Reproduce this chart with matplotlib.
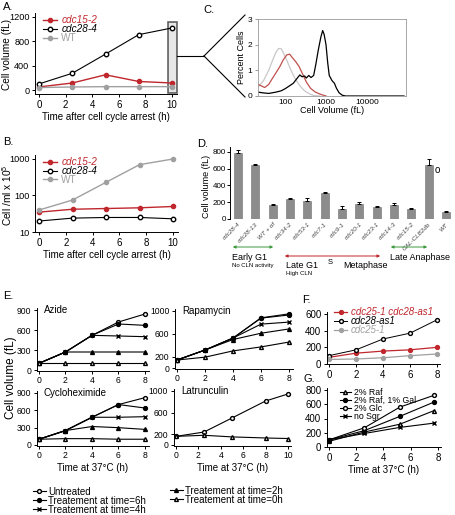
import numpy as np
import matplotlib
matplotlib.use("Agg")
import matplotlib.pyplot as plt
from matplotlib.patches import Rectangle, FancyArrowPatch
from matplotlib.lines import Line2D

plt.rcParams["font.family"] = ["Liberation Sans", "DejaVu Sans"]
plt.rcParams["mathtext.default"] = "regular"
plt.rcParams["axes.linewidth"] = 0.7
plt.rcParams["xtick.major.width"] = 0.7
plt.rcParams["ytick.major.width"] = 0.7
plt.rcParams["xtick.major.size"] = 2.5
plt.rcParams["ytick.major.size"] = 2.5
plt.rcParams["xtick.major.pad"] = 1.5
plt.rcParams["ytick.major.pad"] = 1.5

RED = "#c0272d"
GRAY = "#a0a0a0"
GREEN = "#3a9a3a"

# ==============================
# DATA
# ==============================

# A / B : arrest time course
t_arrest = [0, 2.5, 5, 7.5, 10]
vol_cdc15 = [50, 115, 250, 140, 115]
vol_cdc28 = [100, 275, 590, 910, 1020]
vol_wt = [40, 50, 55, 55, 55]
dens_cdc15 = [35, 42, 44, 46, 50]
dens_cdc28 = [20, 24, 25, 25, 23]
dens_wt = [40, 75, 230, 700, 1000]

# C : size distributions
gray_vol = [22, 30, 40, 50, 60, 70, 80, 90, 110, 140, 180, 230, 300, 400, 500, 700]
gray_pct = [0.35, 0.6, 1.0, 1.4, 1.7, 1.85, 1.85, 1.7, 1.4, 1.0, 0.65, 0.4, 0.2, 0.08, 0.02, 0.0]
red_vol = [22, 26, 32, 40, 50, 60, 75, 90, 110, 130, 150, 180, 220, 270, 330, 420, 550, 750, 1000]
red_pct = [0.45, 0.4, 0.33, 0.45, 0.7, 0.9, 1.15, 1.4, 1.6, 1.63, 1.5, 1.35, 1.15, 0.85,
           0.55, 0.3, 0.15, 0.06, 0.0]
blk_vol = [22, 30, 40, 60, 80, 100, 130, 160, 200, 230, 260, 300, 330, 380, 430, 500, 560,
           650, 750, 830, 900, 1000, 1100, 1200, 1400, 1600, 1800, 2100, 2500, 3000, 80000]
blk_pct = [0.15, 0.12, 0.1, 0.15, 0.2, 0.28, 0.4, 0.5, 0.7, 0.82, 0.75, 0.78, 0.7, 0.8, 0.72,
           0.8, 1.2, 1.8, 2.3, 2.55, 2.4, 2.0, 1.3, 0.8, 0.6, 0.5, 0.3, 0.12, 0.03, 0.0, 0.0]

# D : arrested strains
strains = ["cdc28-4", "cdc28-13", "WT + \u03b1f", "cdc34-2", "cdc53-1", "cdc7-1", "cdc9-1",
           "cdc20-1", "cdc23-1", "cdc14-3", "cdc15-2", "GAL-CLB2db", "WT"]
strain_vol = [790, 640, 170, 240, 215, 310, 125, 180, 145, 165, 125, 640, 85]
strain_err = [30, 15, 8, 15, 30, 10, 25, 20, 10, 25, 10, 80, 5]

# E : drug treatments
t_drug = [0, 2, 4, 6, 8]
azide = {
    "untreated": [100, 270, 520, 720, 840],
    "6h": [100, 270, 520, 690, 670],
    "4h": [100, 270, 520, 510, 500],
    "2h": [100, 270, 270, 270, 270],
    "0h": [100, 100, 100, 100, 100],
}
rapamycin = {
    "untreated": [140, 315, 525, 875, 930],
    "6h": [140, 315, 525, 880, 950],
    "4h": [140, 315, 525, 770, 805],
    "2h": [140, 315, 500, 610, 685],
    "0h": [140, 190, 300, 370, 455],
}
cyclohex = {
    "untreated": [100, 250, 480, 700, 820],
    "6h": [100, 250, 480, 700, 640],
    "4h": [100, 250, 480, 480, 490],
    "2h": [100, 250, 320, 300, 270],
    "0h": [100, 110, 110, 100, 100],
}
t_latr = [0, 2.5, 5, 8, 10]
latr_untreated = [160, 240, 500, 815, 945]
latr_0h = [160, 180, 150, 130, 120]

# F : cdc25 / cdc28-as1
t_f = [0, 2, 4, 6, 8]
f_double = [80, 130, 155, 170, 200]
f_as1 = [100, 170, 300, 370, 530]
f_cdc25 = [55, 60, 75, 100, 120]

# G : carbon sources
t_g = [0, 2.6, 5.2, 7.7]
g_raf = [80, 210, 320, 510]
g_rafgal = [100, 230, 430, 630]
g_glc = [100, 270, 560, 725]
g_nosgr = [100, 190, 275, 335]

# ==============================
# LAYOUT HELPERS
# ==============================
W, H = 456, 515
fig = plt.figure(figsize=(W / 100, H / 100), dpi=100)


def fx(px):
    return px / W


def fy(py):
    return 1 - py / H


def place(xcal, ycal, xlim, ylim, xlog=False, ylog=False):
    tx = np.log10 if xlog else (lambda v: v)
    ty = np.log10 if ylog else (lambda v: v)
    (xv0, xp0), (xv1, xp1) = xcal
    sx = (xp1 - xp0) / (tx(xv1) - tx(xv0))
    left = xp0 + (tx(xlim[0]) - tx(xv0)) * sx
    right = xp0 + (tx(xlim[1]) - tx(xv0)) * sx
    (yv0, yp0), (yv1, yp1) = ycal
    sy = (yp1 - yp0) / (ty(yv1) - ty(yv0))
    bottom = yp0 + (ty(ylim[0]) - ty(yv0)) * sy
    top = yp0 + (ty(ylim[1]) - ty(yv0)) * sy
    ax = fig.add_axes([left / W, 1 - bottom / H, (right - left) / W, (bottom - top) / H])
    if xlog:
        ax.set_xscale("log")
    if ylog:
        ax.set_yscale("log")
    ax.set_xlim(xlim)
    ax.set_ylim(ylim)
    ax.spines["top"].set_visible(False)
    ax.spines["right"].set_visible(False)
    ax.tick_params(labelsize=6.5)
    return ax


def panel_label(x, y, s):
    fig.text(fx(x), fy(y), s, fontsize=8, va="center", ha="left")


def ylabel_at(x, y, s, size=7.5):
    fig.text(fx(x), fy(y), s, fontsize=size, rotation=90, va="center", ha="center")


def color_legend(leg, cols, italic):
    for txt, col, it in zip(leg.get_texts(), cols, italic):
        txt.set_color(col)
        if it:
            txt.set_style("italic")


# ==============================
# A
# ==============================
axA = place(((0, 39), (10, 172)), ((0, 90), (1200, 17)), (-0.3, 10.4), (-65, 1265))
axA.plot(t_arrest, vol_cdc15, "-o", color=RED, ms=3, lw=1, label="cdc15-2")
axA.plot(t_arrest, vol_cdc28, "-o", color="black", mfc="white", ms=3.2, lw=0.8, label="cdc28-4")
axA.plot(t_arrest, vol_wt, "-o", color=GRAY, ms=3, lw=1, label="WT")
axA.set_xticks([0, 2, 4, 6, 8, 10])
axA.set_yticks([0, 400, 800, 1200])
axA.tick_params(axis="x", labelsize=7)
axA.tick_params(axis="y", labelsize=6.6)
axA.set_xlabel("Time after cell cycle arrest (h)", fontsize=7, labelpad=2)
ylabel_at(7.5, 55, "Cell volume (fL)", size=7.3)
legA = axA.legend(loc="upper left", bbox_to_anchor=(0.03, 1.02), frameon=False, fontsize=7.2,
                  handlelength=1.4, handletextpad=0.4, labelspacing=-0.12, borderaxespad=0)
color_legend(legA, [RED, "black", GRAY], [True, True, False])
axA.add_patch(Rectangle((9.7, -50), 0.67, 1170, facecolor="#d8d8d8", alpha=0.6,
                        edgecolor="black", lw=1.2, clip_on=False, zorder=0))
panel_label(3, 7, "A.")

# ==============================
# B
# ==============================
axB = place(((0, 39), (10, 173)), ((10, 232), (1000, 159)), (-0.3, 10.4), (10, 1300), ylog=True)
axB.plot(t_arrest, dens_cdc15, "-o", color=RED, ms=3, lw=1, label="cdc15-2")
axB.plot(t_arrest, dens_cdc28, "-o", color="black", mfc="white", ms=3.2, lw=0.8, label="cdc28-4")
axB.plot(t_arrest, dens_wt, "-o", color=GRAY, ms=3, lw=1, label="WT")
axB.set_xticks([0, 2, 4, 6, 8, 10])
axB.set_yticks([10, 100, 1000])
axB.set_yticklabels(["10", "100", "1000"])
axB.yaxis.set_minor_locator(plt.NullLocator())
axB.tick_params(axis="x", labelsize=7)
axB.tick_params(axis="y", labelsize=6.6)
axB.set_xlabel("Time after cell cycle arrest (h)", fontsize=7, labelpad=2)
ylabel_at(7.5, 195, "Cell /ml x 10$^5$", size=7.3)
legB = axB.legend(loc="upper left", bbox_to_anchor=(0.03, 1.02), frameon=False, fontsize=7.2,
                  handlelength=1.4, handletextpad=0.4, labelspacing=-0.12, borderaxespad=0)
color_legend(legB, [RED, "black", GRAY], [True, True, False])
panel_label(3, 142, "B.")

# ==============================
# C
# ==============================
axC = place(((100, 285), (10000, 367)), ((0, 96), (3, 19)), (22, 9e4), (0, 3), xlog=True)
for s in axC.spines.values():
    s.set_visible(True)
    s.set_color("#9a9a9a")
    s.set_linewidth(0.6)
axC.plot(gray_vol, gray_pct, color="#c8c8c8", lw=0.9)
axC.plot(red_vol, red_pct, color="#c0504d", lw=0.9)
axC.plot(blk_vol, blk_pct, color="black", lw=0.9)
axC.set_xticks([100, 1000, 10000])
axC.set_xticklabels(["100", "1000", "10000"])
axC.xaxis.set_minor_locator(plt.NullLocator())
axC.set_yticks([0, 1, 2, 3])
axC.tick_params(labelsize=6, length=0, pad=2)
axC.tick_params(axis="y", length=2, color="#9a9a9a")
axC.set_xlabel("Cell Volume (fL)", fontsize=6.5, labelpad=0)
axC.set_ylabel("Percent Cells", fontsize=6.5, labelpad=1)
panel_label(203, 10, "C.")

# zoom connector from A box to C
for seg in [((177, 56), (204, 56)), ((204, 56), (245, 15)), ((204, 56), (245, 97))]:
    fig.add_artist(Line2D([fx(seg[0][0]), fx(seg[1][0])], [fy(seg[0][1]), fy(seg[1][1])],
                          transform=fig.transFigure, color="black", lw=0.8))

# ==============================
# D
# ==============================
axD = place(((0, 238), (12, 446)), ((0, 219), (800, 152)), (-0.46, 12.55), (0, 860))
xD = np.arange(len(strains))
axD.bar(xD, strain_vol, width=0.45, color="#8c8c8c", edgecolor="#6d6d6d", lw=0.4)
axD.errorbar(xD, strain_vol, yerr=[np.zeros(len(strain_err)), strain_err], fmt="none",
             ecolor="black", elinewidth=0.7, capsize=1.5, capthick=0.7)
axD.spines["bottom"].set_visible(False)
axD.set_yticks([0, 200, 400, 600, 800])
axD.set_xticks(xD)
axD.set_xticklabels(strains, rotation=45, ha="right", rotation_mode="anchor",
                    fontsize=4.5, style="italic", color="#444444")
axD.tick_params(axis="x", length=0, pad=2)
axD.tick_params(axis="y", labelsize=5.8, pad=1, length=2)
ylabel_at(207, 186, "Cell volume (fL)", size=6.5)
axD.text(11.35, 590, "o", fontsize=7, va="center")
panel_label(197, 144, "D.")

for (x0, x1, y, col) in [(230, 276, 247, GREEN), (282, 383, 256, RED), (388, 430, 247, GREEN)]:
    fig.add_artist(FancyArrowPatch((fx(x0), fy(y)), (fx(x1), fy(y)), transform=fig.transFigure,
                                   arrowstyle="<|-|>", mutation_scale=4, color=col, lw=0.7))
fig.text(fx(232), fy(257), "Early G1", fontsize=6.5, va="center")
fig.text(fx(232), fy(266), "No CLN activity", fontsize=4.3, va="center")
fig.text(fx(286), fy(265), "Late G1", fontsize=6.5, va="center")
fig.text(fx(286), fy(274), "High CLN", fontsize=4.3, va="center")
fig.text(fx(328), fy(263), "S", fontsize=5.5, va="center")
fig.text(fx(343), fy(265), "Metaphase", fontsize=6.5, va="center")
fig.text(fx(390), fy(257), "Late Anaphase", fontsize=6.5, va="center")

# ==============================
# E
# ==============================
styles = {
    "untreated": dict(marker="o", mfc="white", ms=2.8, label="Untreated"),
    "6h": dict(marker="o", mfc="black", ms=2.8, label="Treatement at time=6h"),
    "4h": dict(marker="x", ms=3.2, mew=1, label="Treatement at time=4h"),
    "2h": dict(marker="^", mfc="black", ms=2.8, label="Treatement at time=2h"),
    "0h": dict(marker="^", mfc="white", ms=2.8, label="Treatement at time=0h"),
}


def drug_panel(ax, data, name):
    for key, vals in data.items():
        ax.plot(t_drug, vals, color="black", lw=0.8, **styles[key])
    ax.text(0.06, 0.97, name, transform=ax.transAxes, fontsize=7, va="center")
    ax.tick_params(labelsize=6.2)


axAz = place(((0, 39), (8, 145)), ((0, 370), (900, 310)), (-0.15, 8.3), (-10, 930))
drug_panel(axAz, azide, "Azide")
axAz.set_xticks([0, 2, 4, 6, 8])
axAz.set_yticks([0, 300, 600, 900])

axRa = place(((0, 177), (8, 289)), ((0, 368), (1000, 311)), (-0.15, 8.3), (-10, 1030))
drug_panel(axRa, rapamycin, "Rapamycin")
axRa.set_xticks([0, 2, 4, 6, 8])
axRa.set_yticks([0, 200, 600, 1000])

axCy = place(((0, 39), (8, 145)), ((0, 445), (900, 393)), (-0.15, 8.3), (-10, 930))
drug_panel(axCy, cyclohex, "Cycloheximide")
axCy.set_xticks([0, 2, 4, 6, 8])
axCy.set_yticks([0, 300, 600, 900])
axCy.set_xlabel("Time at 37\u00b0C (h)", fontsize=7, labelpad=2)

axLa = place(((0, 176), (10, 288)), ((0, 445), (1000, 391)), (-0.2, 10.3), (-10, 1030))
axLa.plot(t_latr, latr_untreated, color="black", lw=0.8, **styles["untreated"])
axLa.plot(t_latr, latr_0h, color="black", lw=0.8, **styles["0h"])
axLa.text(0.06, 0.97, "Latrunculin", transform=axLa.transAxes, fontsize=7, va="center")
axLa.tick_params(labelsize=6.2)
axLa.set_xticks([0, 2, 4, 6, 8, 10])
axLa.set_yticks([0, 200, 600, 1000])
axLa.set_xlabel("Time at 37\u00b0C (h)", fontsize=7, labelpad=2)

ylabel_at(11, 378, "Cell volume (fL)", size=8.5)
panel_label(3, 296, "E.")

hE, lE = axAz.get_legend_handles_labels()
fig.legend(hE[:3], lE[:3], loc="upper left", bbox_to_anchor=(fx(29), fy(483)), frameon=False,
           fontsize=7, handlelength=1.3, handletextpad=0.3, labelspacing=-0.12, borderaxespad=0)
fig.legend(hE[3:], lE[3:], loc="upper left", bbox_to_anchor=(fx(166), fy(482)), frameon=False,
           fontsize=7, handlelength=1.3, handletextpad=0.3, labelspacing=-0.12, borderaxespad=0)

# ==============================
# F
# ==============================
axF = place(((0, 329), (8, 437)), ((0, 364), (600, 314)), (-0.15, 8.2), (0, 620))
axF.plot(t_f, f_double, "-o", color=RED, ms=2.8, lw=0.9, label="cdc25-1 cdc28-as1")
axF.plot(t_f, f_as1, "-o", color="black", mfc="white", ms=2.8, lw=0.7, label="cdc28-as1")
axF.plot(t_f, f_cdc25, "-o", color=GRAY, ms=2.8, lw=0.9, label="cdc25-1")
axF.set_xticks([0, 2, 4, 6, 8])
axF.set_yticks([0, 200, 400, 600])
axF.tick_params(labelsize=7)
legF = axF.legend(loc="upper left", bbox_to_anchor=(0.03, 1.17), frameon=False, fontsize=7,
                  handlelength=1.3, handletextpad=0.4, labelspacing=-0.1, borderaxespad=0)
color_legend(legF, [RED, "black", GRAY], [True, True, True])
panel_label(302, 300, "F.")

# ==============================
# G
# ==============================
axG = place(((0, 329), (8, 438)), ((0, 447), (800, 390)), (-0.15, 8.2), (0, 830))
axG.plot(t_g, g_raf, color="black", lw=0.8, marker="^", mfc="white", ms=2.8, label="2% Raf")
axG.plot(t_g, g_rafgal, color="black", lw=0.8, marker="o", ms=2.8, label="2% Raf, 1% Gal")
axG.plot(t_g, g_glc, color="black", lw=0.8, marker="o", mfc="white", ms=2.8, label="2% Glc")
axG.plot(t_g, g_nosgr, color="black", lw=0.8, marker="x", ms=3.2, label="no Sgr")
axG.set_xticks([0, 2, 4, 6, 8])
axG.set_yticks([0, 200, 400, 600, 800])
axG.tick_params(labelsize=7)
axG.set_xlabel("Time at 37\u00b0C (h)", fontsize=7, labelpad=2)
axG.legend(loc="upper left", bbox_to_anchor=(0.08, 1.06), frameon=False, fontsize=6.3,
           handlelength=1.3, handletextpad=0.3, labelspacing=-0.1, borderaxespad=0)
panel_label(304, 379, "G.")

fig.savefig("out.png", dpi=100)
